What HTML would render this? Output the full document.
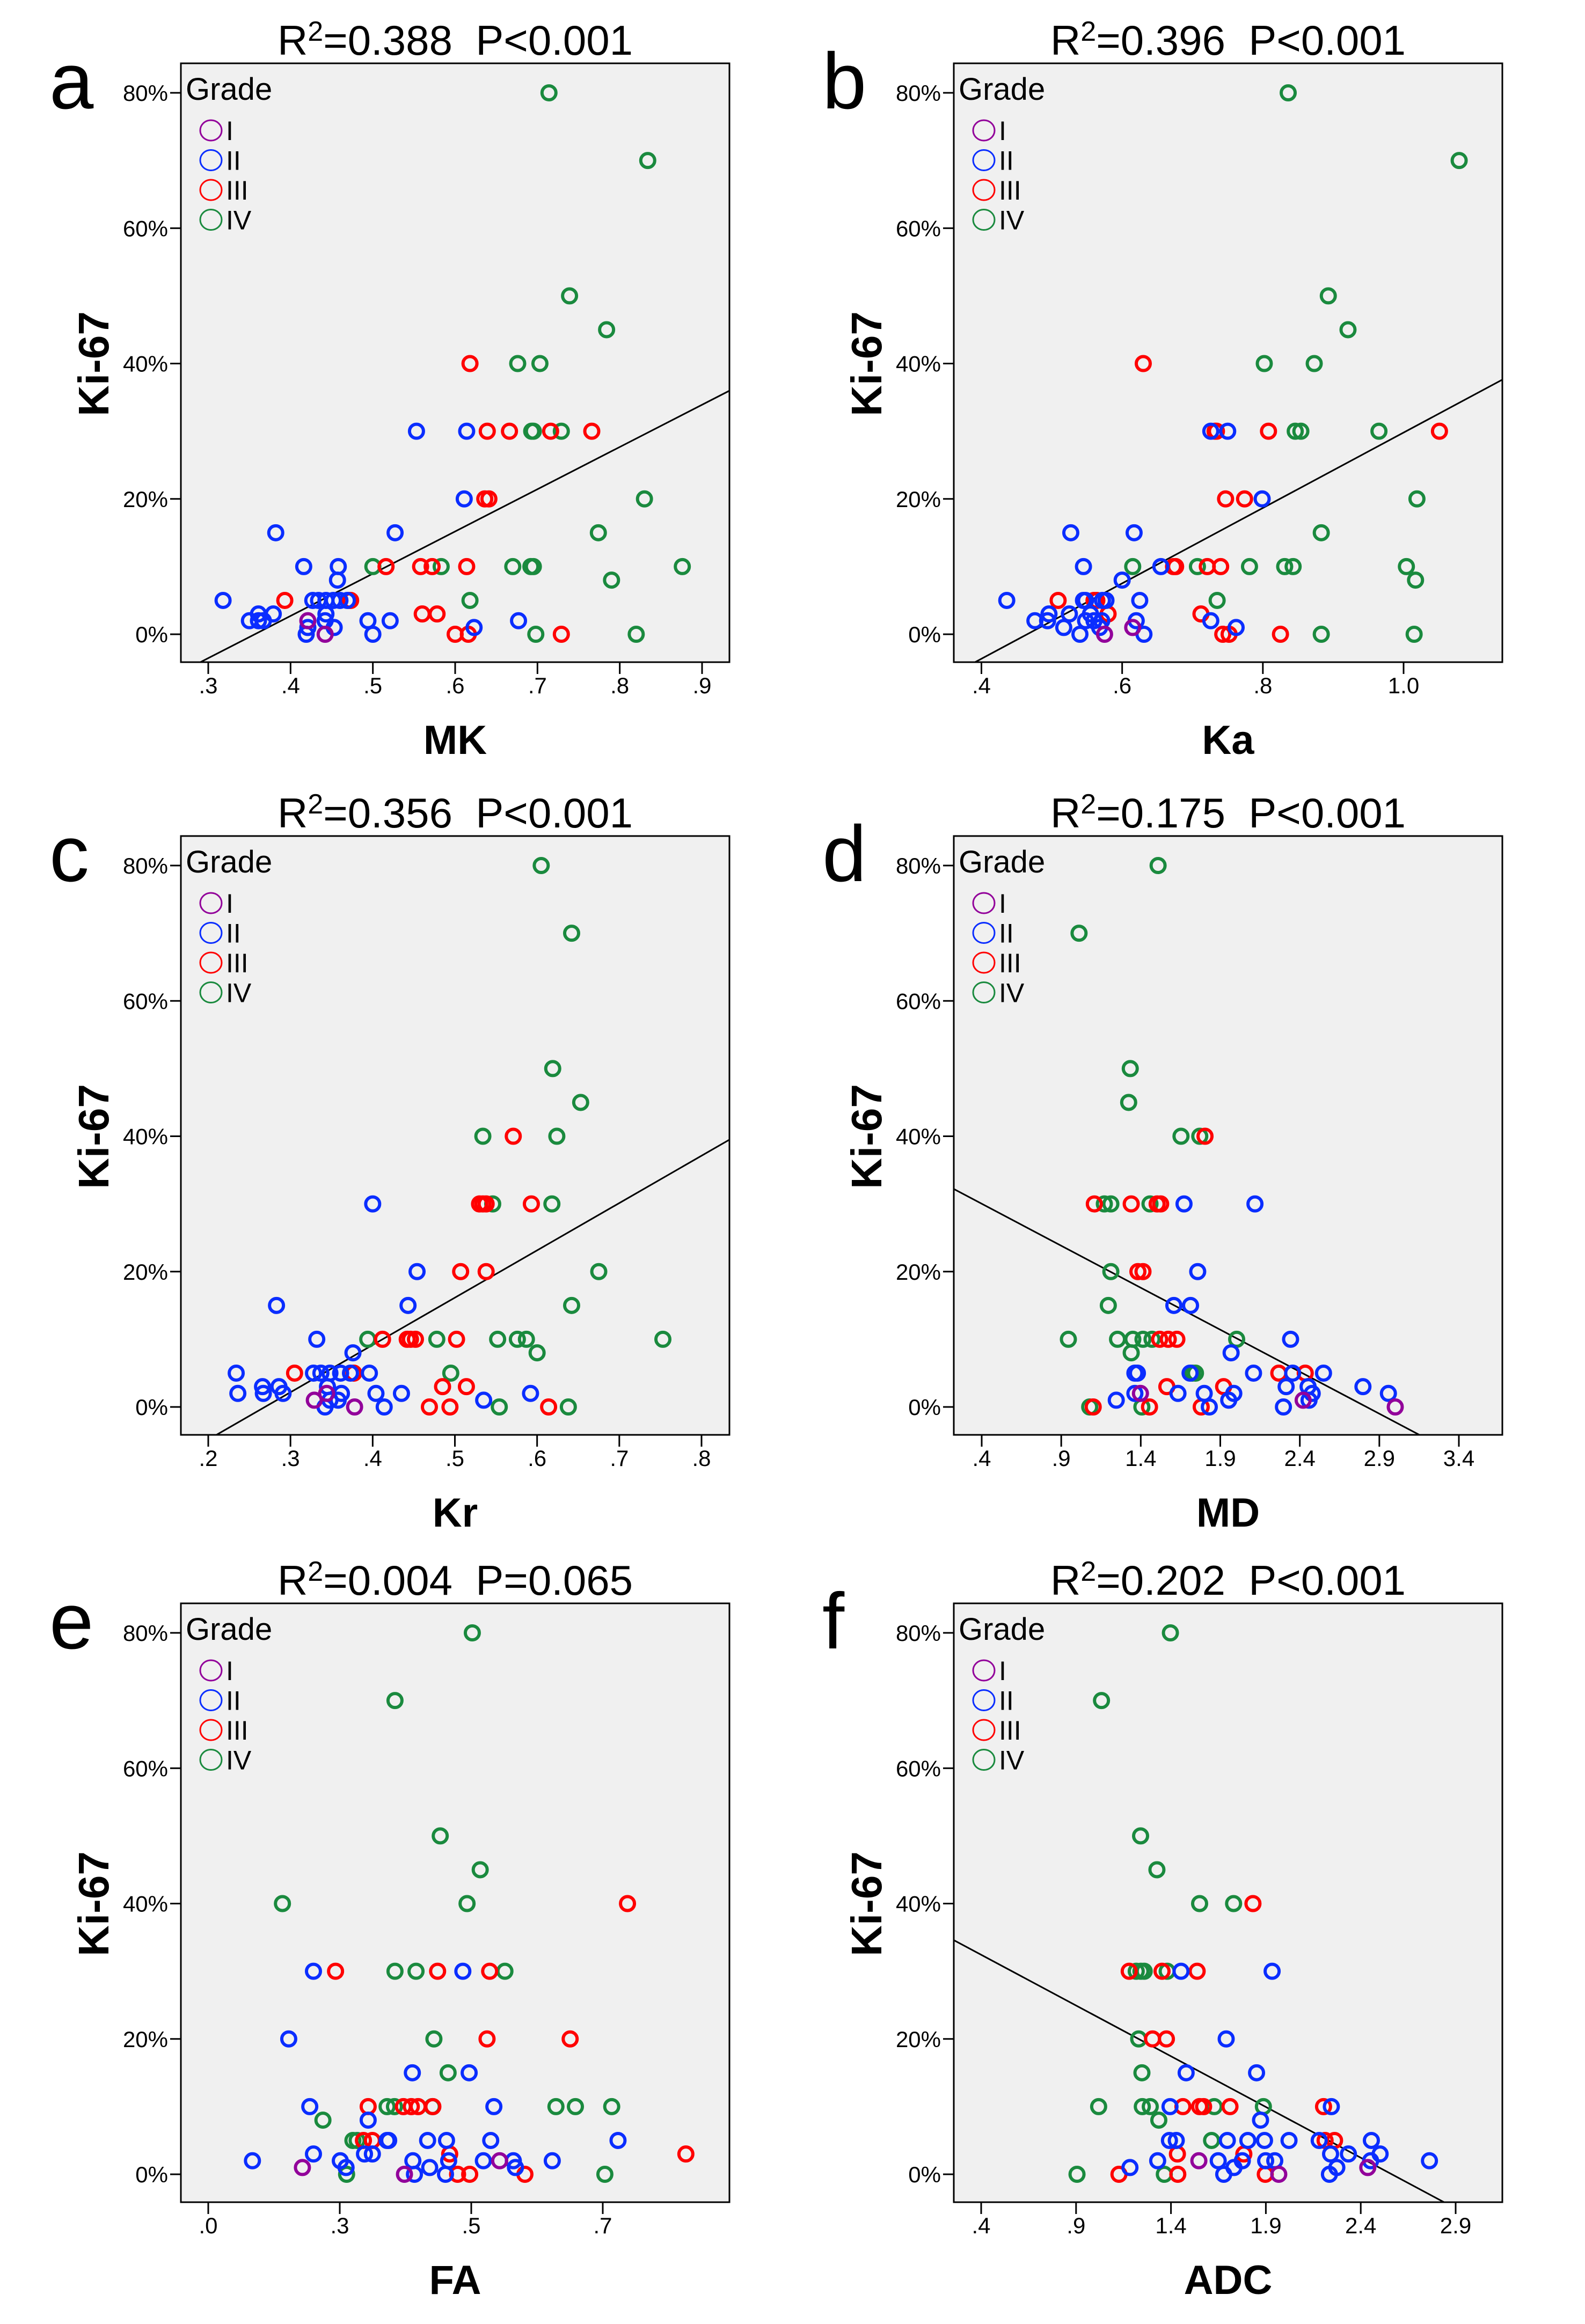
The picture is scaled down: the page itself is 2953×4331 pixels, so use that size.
<!DOCTYPE html>
<html><head><meta charset="utf-8"><style>
html,body{margin:0;padding:0;background:#fff;}
svg{display:block;}
text{font-family:"Liberation Sans",Arial,sans-serif;}
.ttl{white-space:pre;}
</style></head><body>
<svg id="fig" width="2953" height="4331" viewBox="0 0 2953 4331" xmlns="http://www.w3.org/2000/svg"></svg>
<script>
// ---- Panel a: MK ----
const aG=[[.714,80],[.834,70],[.739,50],[.784,45],[.676,40],[.703,40],[.693,30],[.695,30],[.729,30],[.830,20],[.774,15],[.500,10],[.583,10],[.670,10],[.692,10],[.695,10],[.876,10],[.790,8],[.618,5],[.698,0],[.820,0]];
const aR=[[.618,40],[.639,30],[.666,30],[.716,30],[.766,30],[.636,20],[.641,20],[.516,10],[.558,10],[.572,10],[.614,10],[.393,5],[.471,5],[.473,5],[.560,3],[.578,3],[.600,0],[.616,0],[.729,0]];
const aB=[[.553,30],[.614,30],[.611,20],[.382,15],[.527,15],[.416,10],[.458,10],[.457,8],[.318,5],[.427,5],[.434,5],[.443,5],[.452,5],[.460,5],[.469,5],[.361,3],[.379,3],[.350,2],[.361,2],[.367,2],[.443,3],[.442,2],[.494,2],[.521,2],[.677,2],[.421,1],[.453,1],[.623,1],[.419,0],[.500,0]];
const aP=[[.421,2],[.442,0]];
const aTicks=[.3,.4,.5,.6,.7,.8,.9];
const aTickLabels=[".3",".4",".5",".6",".7",".8",".9"];
const aFit=[-22.25,62.4];
// ---- Panel b: Ka ----
const bG=[[.836,80],[1.079,70],[.893,50],[.921,45],[.802,40],[.873,40],[.846,30],[.854,30],[.965,30],[1.019,20],[.883,15],[.615,10],[.707,10],[.781,10],[.831,10],[.843,10],[1.004,10],[1.017,8],[.735,5],[.883,0],[1.015,0]];
const bR=[[.630,40],[.732,30],[.734,30],[.808,30],[1.051,30],[.747,20],[.774,20],[.673,10],[.676,10],[.721,10],[.740,10],[.509,5],[.560,5],[.564,5],[.580,3],[.712,3],[.743,0],[.752,0],[.825,0]];
const bB=[[.726,30],[.750,30],[.799,20],[.527,15],[.617,15],[.545,10],[.655,10],[.600,8],[.436,5],[.545,5],[.548,5],[.572,5],[.577,5],[.625,5],[.496,3],[.525,3],[.555,3],[.476,2],[.494,2],[.548,2],[.560,2],[.571,2],[.620,2],[.726,2],[.517,1],[.568,1],[.762,1],[.540,0],[.631,0]];
const bP=[[.615,1],[.575,0]];
const bTicks=[.4,.6,.8,1.0];
const bTickLabels=[".4",".6",".8","1.0"];
const bFit=[-25.9,55.7];
// ---- Panel c: Kr ----
const cG=[[.605,80],[.642,70],[.619,50],[.653,45],[.534,40],[.624,40],[.546,30],[.618,30],[.675,20],[.642,15],[.394,10],[.478,10],[.552,10],[.576,10],[.587,10],[.753,10],[.600,8],[.495,5],[.554,0],[.638,0]];
const cR=[[.571,40],[.530,30],[.534,30],[.538,30],[.593,30],[.507,20],[.538,20],[.412,10],[.442,10],[.446,10],[.452,10],[.502,10],[.305,5],[.377,5],[.485,3],[.514,3],[.469,0],[.494,0],[.614,0]];
const cB=[[.400,30],[.454,20],[.283,15],[.443,15],[.332,10],[.376,8],[.234,5],[.328,5],[.337,5],[.348,5],[.361,5],[.373,5],[.396,5],[.266,3],[.286,3],[.345,3],[.236,2],[.267,2],[.291,2],[.362,2],[.404,2],[.435,2],[.592,2],[.348,1],[.358,1],[.535,1],[.342,0],[.414,0]];
const cP=[[.329,1],[.344,2],[.378,0]];
const cTicks=[.2,.3,.4,.5,.6,.7,.8];
const cTickLabels=[".2",".3",".4",".5",".6",".7",".8"];
const cFit=[-18.8,69.9];
// ---- Panel d: MD ----
const dG=[[1.509,80],[1.012,70],[1.334,50],[1.324,45],[1.653,40],[1.771,40],[1.171,30],[1.212,30],[1.458,30],[1.212,20],[1.196,15],[.945,10],[1.254,10],[1.350,10],[1.414,10],[1.471,10],[2.003,10],[1.340,8],[1.724,5],[1.744,5],[1.079,0],[1.407,0]];
const dR=[[1.804,40],[1.108,30],[1.340,30],[1.503,30],[1.525,30],[1.382,20],[1.414,20],[1.519,10],[1.573,10],[1.627,10],[2.268,5],[2.434,5],[1.564,3],[1.921,3],[1.101,0],[1.455,0],[1.780,0]];
const dB=[[1.672,30],[2.118,30],[1.758,20],[1.608,15],[1.713,15],[2.342,10],[1.968,8],[1.363,5],[1.379,5],[1.710,5],[2.109,5],[2.355,5],[2.549,5],[2.314,3],[2.452,3],[2.797,3],[1.363,2],[1.634,2],[1.799,2],[1.985,2],[2.478,2],[2.957,2],[1.246,1],[1.953,1],[2.458,1],[1.831,0],[2.297,0]];
const dP=[[1.398,2],[2.421,1],[3.000,0]];
const dTicks=[.4,.9,1.4,1.9,2.4,2.9,3.4];
const dTickLabels=[".4",".9","1.4","1.9","2.4","2.9","3.4"];
const dFit=[34.99,-12.41];
// ---- Panel e: FA ----
const eG=[[.502,80],[.355,70],[.441,50],[.517,45],[.141,40],[.492,40],[.355,30],[.395,30],[.564,30],[.429,20],[.456,15],[.340,10],[.354,10],[.426,10],[.661,10],[.698,10],[.767,10],[.218,8],[.275,5],[.283,5],[.263,0],[.754,0]];
const eR=[[.797,40],[.242,30],[.436,30],[.535,30],[.530,20],[.688,20],[.304,10],[.371,10],[.386,10],[.399,10],[.427,10],[.295,5],[.312,5],[.459,3],[.908,3],[.474,0],[.497,0],[.602,0]];
const eB=[[.200,30],[.484,30],[.153,20],[.388,15],[.496,15],[.193,10],[.543,10],[.304,8],[.340,5],[.343,5],[.417,5],[.453,5],[.537,5],[.779,5],[.200,3],[.297,3],[.312,3],[.084,2],[.251,2],[.389,2],[.457,2],[.523,2],[.580,2],[.654,2],[.262,1],[.421,1],[.584,1],[.392,0],[.451,0]];
const eP=[[.179,1],[.554,2],[.373,0]];
const eTicks=[0,.25,.5,.75];
const eTickLabels=[".0",".3",".5",".7"];
const eFit=null;
// ---- Panel f: ADC ----
const fG=[[1.397,80],[1.034,70],[1.240,50],[1.326,45],[1.551,40],[1.730,40],[1.217,30],[1.242,30],[1.259,30],[1.380,30],[1.230,20],[1.247,15],[1.019,10],[1.249,10],[1.291,10],[1.628,10],[1.887,10],[1.336,8],[1.614,5],[.905,0],[1.365,0]];
const fR=[[1.832,40],[1.180,30],[1.353,30],[1.538,30],[1.303,20],[1.376,20],[1.463,10],[1.551,10],[1.572,10],[1.711,10],[2.204,10],[2.212,5],[2.262,5],[1.434,3],[1.784,3],[1.126,0],[1.436,0],[1.897,0]];
const fB=[[1.453,30],[1.933,30],[1.691,20],[1.480,15],[1.851,15],[1.395,10],[2.245,10],[1.872,8],[1.392,5],[1.428,5],[1.697,5],[1.805,5],[1.893,5],[2.022,5],[2.181,5],[2.456,5],[2.241,3],[2.335,3],[2.502,3],[1.330,2],[1.649,2],[1.776,2],[1.899,2],[1.947,2],[2.452,2],[2.762,2],[1.184,1],[1.732,1],[2.274,1],[1.678,0],[2.235,0]];
const fP=[[1.547,2],[2.437,1],[1.968,0]];
const fTicks=[.4,.9,1.4,1.9,2.4,2.9];
const fTickLabels=[".4",".9","1.4","1.9","2.4","2.9"];
const fFit=[38.43,-14.99];

const yTicks=[0,20,40,60,80];
const yTickLabels=["0%","20%","40%","60%","80%"];
const gradeNames=["I","II","III","IV"];
const COLORS={P:"#92009a",B:"#0a2dff",R:"#ff0000",G:"#1a8a3e"};

const NS="http://www.w3.org/2000/svg";
const svg=document.getElementById("fig");
function mk(tag,attrs,parent){const e=document.createElementNS(NS,tag);for(const k in attrs)e.setAttribute(k,attrs[k]);(parent||svg).appendChild(e);return e;}

const W=1022,H=1116;
function yScale(v){return 1064-(v)*(1009/80);}

const panels=[
 {id:"a",t1:"0.388",p:"P<0.001",xl:"MK",ox:337,oy:118,px0:51,px1:971,v0:.3,v1:.9,ticks:aTicks,tl:aTickLabels,fit:aFit,G:aG,R:aR,B:aB,P:aP},
 {id:"b",t1:"0.396",p:"P<0.001",xl:"Ka",ox:1777,oy:118,px0:51.5,px1:838,v0:.4,v1:1.0,ticks:bTicks,tl:bTickLabels,fit:bFit,G:bG,R:bR,B:bB,P:bP},
 {id:"c",t1:"0.356",p:"P<0.001",xl:"Kr",ox:337,oy:1558,px0:51,px1:970,v0:.2,v1:.8,ticks:cTicks,tl:cTickLabels,fit:cFit,G:cG,R:cR,B:cB,P:cP},
 {id:"d",t1:"0.175",p:"P<0.001",xl:"MD",ox:1777,oy:1558,px0:52,px1:941,v0:.4,v1:3.4,ticks:dTicks,tl:dTickLabels,fit:dFit,G:dG,R:dR,B:dB,P:dP},
 {id:"e",t1:"0.004",p:"P=0.065",xl:"FA",ox:337,oy:2988,px0:51,px1:786,v0:0,v1:.75,ticks:eTicks,tl:eTickLabels,fit:eFit,G:eG,R:eR,B:eB,P:eP},
 {id:"f",t1:"0.202",p:"P<0.001",xl:"ADC",ox:1777,oy:2988,px0:51,px1:935,v0:.4,v1:2.9,ticks:fTicks,tl:fTickLabels,fit:fFit,G:fG,R:fR,B:fB,P:fP}
];

panels.forEach(pn=>{
  const g=mk("g",{transform:`translate(${pn.ox},${pn.oy})`});
  
  
  const xs=v=>pn.px0+(v-pn.v0)*(pn.px1-pn.px0)/(pn.v1-pn.v0);
  const xinv=px=>pn.v0+(px-pn.px0)*(pn.v1-pn.v0)/(pn.px1-pn.px0);
  const L=mk("text",{x:-245,y:84,"font-size":148},g);L.textContent=pn.id;
  
  const T=mk("text",{x:W/2,y:-16,"font-size":78,"text-anchor":"middle","class":"ttl"},g);
  
  T.innerHTML=`R<tspan dy="-26" font-size="52">2</tspan><tspan dy="26">=${pn.t1}\u00a0\u00a0${pn.p}</tspan>`;
  const bg=mk("rect",{x:0,y:0,width:W,height:H,fill:"#f0f0f0",stroke:"#000","stroke-width":3},g);
  
  yTicks.forEach((v,i)=>{
    const y=yScale(v);
    const tk=mk("line",{x1:-20,x2:0,y1:y,y2:y,stroke:"#000","stroke-width":3},g);
    
    const t=mk("text",{x:-24,y:y+15,"font-size":42,"text-anchor":"end"},g);t.textContent=yTickLabels[i];
    
  });
  pn.ticks.forEach((v,i)=>{
    const x=xs(v);
    const tk=mk("line",{x1:x,x2:x,y1:H,y2:H+22,stroke:"#000","stroke-width":3},g);
    
    const t=mk("text",{x:x,y:1174,"font-size":42,"text-anchor":"middle"},g);t.textContent=pn.tl[i];
    
  });
  const xt=mk("text",{x:W/2,y:1287,"font-size":76,"font-weight":"bold","text-anchor":"middle"},g);xt.textContent=pn.xl;
  
  const yt=mk("text",{x:0,y:0,"font-size":80,"font-weight":"bold","text-anchor":"middle",transform:"translate(-135,560) rotate(-90)"},g);yt.textContent="Ki-67";
  
  const cp=mk("clipPath",{id:"clip"+pn.id},g);mk("rect",{x:0,y:0,width:W,height:H},cp);
  const plot=mk("g",{"clip-path":`url(#clip${pn.id})`},g);
  if(pn.fit){
    const xa=xinv(0),xb=xinv(W);
    const ln=mk("line",{x1:0,y1:yScale(pn.fit[0]+pn.fit[1]*xa),x2:W,y2:yScale(pn.fit[0]+pn.fit[1]*xb),stroke:"#000","stroke-width":3},plot);
    
  }
  [["G",pn.G],["R",pn.R],["B",pn.B],["P",pn.P]].forEach(([k,arr])=>{
    arr.forEach(d=>{
      const c=mk("circle",{cx:xs(d[0]),cy:yScale(d[1]),r:13,fill:"none",stroke:COLORS[k],"stroke-width":6},plot);
      
      
    });
  });
  const lg=mk("g",{},g);
  
  const gt=mk("text",{x:9,y:68,"font-size":58},lg);gt.textContent="Grade";
  
  ["P","B","R","G"].forEach((k,i)=>{
    const y=125+i*55.5;
    const c=mk("ellipse",{cx:56,cy:y,rx:20,ry:19,fill:"none",stroke:COLORS[k],"stroke-width":3},lg);
    
    const t=mk("text",{x:84,y:y+18,"font-size":50},lg);t.textContent=gradeNames[i];
    
  });
});
</script>
</body></html>
